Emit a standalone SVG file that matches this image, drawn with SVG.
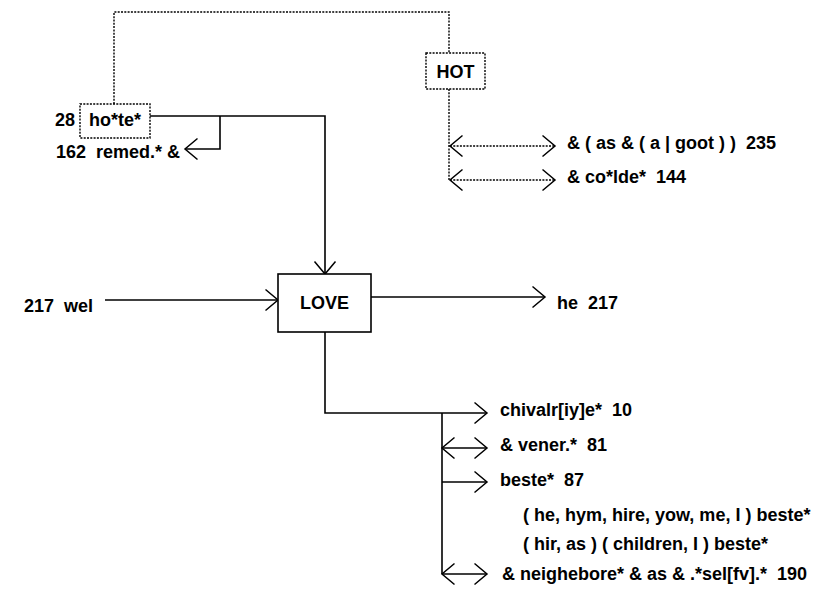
<svg xmlns="http://www.w3.org/2000/svg" width="831" height="596" viewBox="0 0 831 596">
<style>
text{font-family:"Liberation Sans",Arial,Helvetica,sans-serif;font-weight:bold;font-size:18px;fill:#000;white-space:pre}
.mid{text-anchor:middle}
.s{fill:none;stroke:#000;stroke-width:1.6}
.d{fill:none;stroke:#000;stroke-width:1.4;stroke-dasharray:2 1.3}
.box{fill:#fff;stroke:#000;stroke-width:1.6}
.dbox{fill:#fff;stroke:#000;stroke-width:1.4;stroke-dasharray:2 1.3}
</style>
<defs>
<marker id="ah" markerUnits="userSpaceOnUse" markerWidth="16" markerHeight="24" refX="14" refY="12" orient="auto-start-reverse" overflow="visible">
<path d="M1.5,1.5 L14,12 L1.5,22.5" fill="none" stroke="#000" stroke-width="1.5"/>
</marker>
</defs>
<rect width="831" height="596" fill="#fff"/>
<g id="connectors">
<path class="d" d="M114,104 V12 H449 V53"/>
<path class="d" d="M449,89 V180"/>
<path class="d" d="M450,146 H555" marker-start="url(#ah)" marker-end="url(#ah)"/>
<path class="d" d="M450,180 H555" marker-start="url(#ah)" marker-end="url(#ah)"/>
<path class="s" d="M150,116 H325 V274" marker-end="url(#ah)"/>
<path class="s" d="M220,116 V149 H185" marker-end="url(#ah)"/>
<path class="s" d="M105,300 H278" marker-end="url(#ah)"/>
<path class="s" d="M371,297 H545" marker-end="url(#ah)"/>
<path class="s" d="M325,332 V413 H487" marker-end="url(#ah)"/>
<path class="s" d="M442,413 V574"/>
<path class="s" d="M442,448 H487" marker-start="url(#ah)" marker-end="url(#ah)"/>
<path class="s" d="M442,482 H487" marker-end="url(#ah)"/>
<path class="s" d="M442,574 H487" marker-start="url(#ah)" marker-end="url(#ah)"/>
</g>
<g id="hote">
<text x="55" y="126">28</text>
<rect class="dbox" x="80" y="104" width="70" height="34"/>
<text class="mid" x="115" y="126">ho*te*</text>
</g>
<g id="hot">
<rect class="dbox" x="426" y="53" width="59" height="36"/>
<text class="mid" x="455.5" y="78">HOT</text>
</g>
<g id="love">
<rect class="box" x="278" y="274" width="93" height="58"/>
<text class="mid" x="324.5" y="309">LOVE</text>
</g>
<g id="remed"><text x="56" y="158">162  remed.* &amp;</text></g>
<g id="goot"><text x="567" y="149">&amp; ( as &amp; ( a | goot ) )  235</text></g>
<g id="colde"><text x="567" y="183">&amp; co*lde*  144</text></g>
<g id="wel"><text x="24" y="312">217  wel</text></g>
<g id="he217"><text x="557" y="309">he  217</text></g>
<g id="chivalrie"><text x="500" y="416">chivalr[iy]e*  10</text></g>
<g id="vener"><text x="500" y="451">&amp; vener.*  81</text></g>
<g id="beste"><text x="500" y="486">beste*  87</text></g>
<g id="beste2"><text x="523" y="521">( he, hym, hire, yow, me, I ) beste*</text></g>
<g id="beste3"><text x="523" y="550">( hir, as ) ( children, I ) beste*</text></g>
<g id="neighebore"><text x="502" y="580">&amp; neighebore* &amp; as &amp; .*sel[fv].*  190</text></g>
</svg>
